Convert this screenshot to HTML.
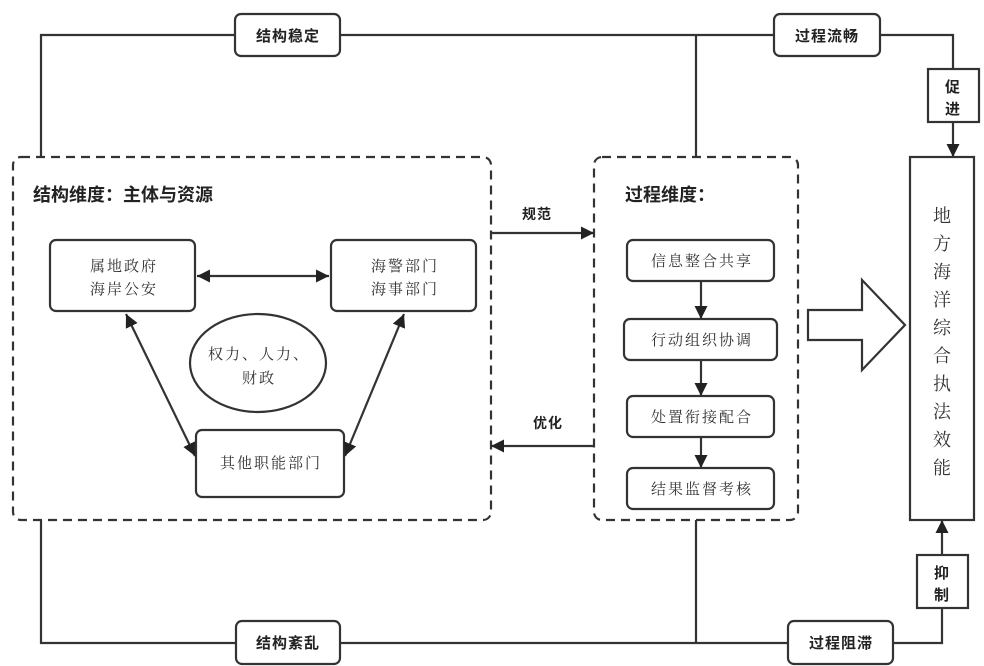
<!DOCTYPE html>
<html><head><meta charset="utf-8"><style>
html,body{margin:0;padding:0;background:#fff;}
svg{display:block;}
.b{font-family:"Liberation Sans","Noto Sans CJK SC",sans-serif;font-weight:bold;fill:#222;}
.s{font-family:"Liberation Serif","Noto Serif CJK SC","Noto Sans CJK SC",serif;fill:#333;}
</style></head><body>
<svg width="984" height="666" viewBox="0 0 984 666" xmlns="http://www.w3.org/2000/svg">
<defs>
<marker id="a" viewBox="0 0 10 10" refX="10" refY="5" markerWidth="6" markerHeight="6" orient="auto-start-reverse" markerUnits="strokeWidth"><path d="M0,0 L10,5 L0,10 z" fill="#222"/></marker>
</defs>
<g stroke="#333" stroke-width="2.2" fill="none">
<polyline points="41,157 41,35 235,35"/>
<line x1="340" y1="35" x2="774" y2="35"/>
<line x1="696" y1="35" x2="696" y2="157"/>
<polyline points="880,35 953,35 953,69"/>
<line x1="953" y1="122" x2="953" y2="157" marker-end="url(#a)"/>
<polyline points="41,520 41,643 236,643"/>
<line x1="340" y1="643" x2="788" y2="643"/>
<line x1="696" y1="520" x2="696" y2="643"/>
<polyline points="893,643 942,643 942,608"/>
<line x1="942" y1="555" x2="942" y2="520" marker-end="url(#a)"/>
<rect x="235" y="14" width="105" height="42" rx="6" fill="#fff"/>
<rect x="774" y="14" width="106" height="42" rx="6" fill="#fff"/>
<rect x="236" y="621" width="104" height="43" rx="6" fill="#fff"/>
<rect x="788" y="621" width="105" height="43" rx="6" fill="#fff"/>
<rect x="928" y="69" width="51" height="53" fill="#fff"/>
<rect x="917" y="555" width="51" height="53" fill="#fff"/>
<rect x="910" y="157" width="64" height="363" fill="#fff"/>
<rect x="13" y="157" width="478" height="363" rx="8" stroke-dasharray="9,6"/>
<rect x="594" y="157" width="204" height="363" rx="8" stroke-dasharray="9,6"/>
<line x1="491" y1="233" x2="594" y2="233" marker-end="url(#a)"/>
<line x1="594" y1="446" x2="491" y2="446" marker-end="url(#a)"/>
<rect x="50" y="240" width="145" height="71" rx="6"/>
<rect x="331" y="240" width="145" height="71" rx="6"/>
<rect x="196" y="430" width="148" height="67" rx="6"/>
<ellipse cx="258" cy="363" rx="68" ry="49"/>
<line x1="197" y1="276" x2="329" y2="276" marker-start="url(#a)" marker-end="url(#a)"/>
<line x1="126" y1="314" x2="195" y2="456" marker-start="url(#a)" marker-end="url(#a)"/>
<line x1="404" y1="314" x2="345" y2="456" marker-start="url(#a)" marker-end="url(#a)"/>
<rect x="627" y="240" width="147" height="41" rx="6"/>
<rect x="624" y="319" width="153" height="41" rx="6"/>
<rect x="627" y="396" width="147" height="41" rx="6"/>
<rect x="627" y="468" width="147" height="41" rx="6"/>
<line x1="701" y1="281" x2="701" y2="319" marker-end="url(#a)"/>
<line x1="701" y1="360" x2="701" y2="396" marker-end="url(#a)"/>
<line x1="701" y1="437" x2="701" y2="468" marker-end="url(#a)"/>
<polygon points="808,310 862,310 862,280 905,325 862,370 862,340 808,340"/>
</g>
<g class="b" font-size="15" text-anchor="middle" letter-spacing="1">
<text x="288" y="41">结构稳定</text>
<text x="827" y="41">过程流畅</text>
<text x="288" y="648">结构紊乱</text>
<text x="841" y="648">过程阻滞</text>
<text x="953" y="92">促</text><text x="953" y="114">进</text>
<text x="942" y="578">抑</text><text x="942" y="600">制</text>
<text x="537" y="219" font-size="14">规范</text>
<text x="548" y="428" font-size="14">优化</text>
</g>
<text class="b" x="33" y="201" font-size="18">结构维度：主体与资源</text>
<text class="b" x="625" y="201" font-size="18">过程维度：</text>
<g class="s" font-size="15" text-anchor="middle" letter-spacing="2">
<text x="124" y="271">属地政府</text>
<text x="124" y="294">海岸公安</text>
<text x="405" y="271">海警部门</text>
<text x="405" y="294">海事部门</text>
<text x="259" y="359">权力、人力、</text>
<text x="259" y="383">财政</text>
<text x="271" y="468">其他职能部门</text>
<text x="702" y="266">信息整合共享</text>
<text x="702" y="345">行动组织协调</text>
<text x="702" y="422">处置衔接配合</text>
<text x="702" y="494">结果监督考核</text>
</g>
<g class="s" font-size="18" text-anchor="middle">
<text x="942" y="222">地</text><text x="942" y="250">方</text><text x="942" y="278">海</text><text x="942" y="306">洋</text><text x="942" y="334">综</text><text x="942" y="362">合</text><text x="942" y="390">执</text><text x="942" y="418">法</text><text x="942" y="446">效</text><text x="942" y="474">能</text>
</g>
</svg>
</body></html>
